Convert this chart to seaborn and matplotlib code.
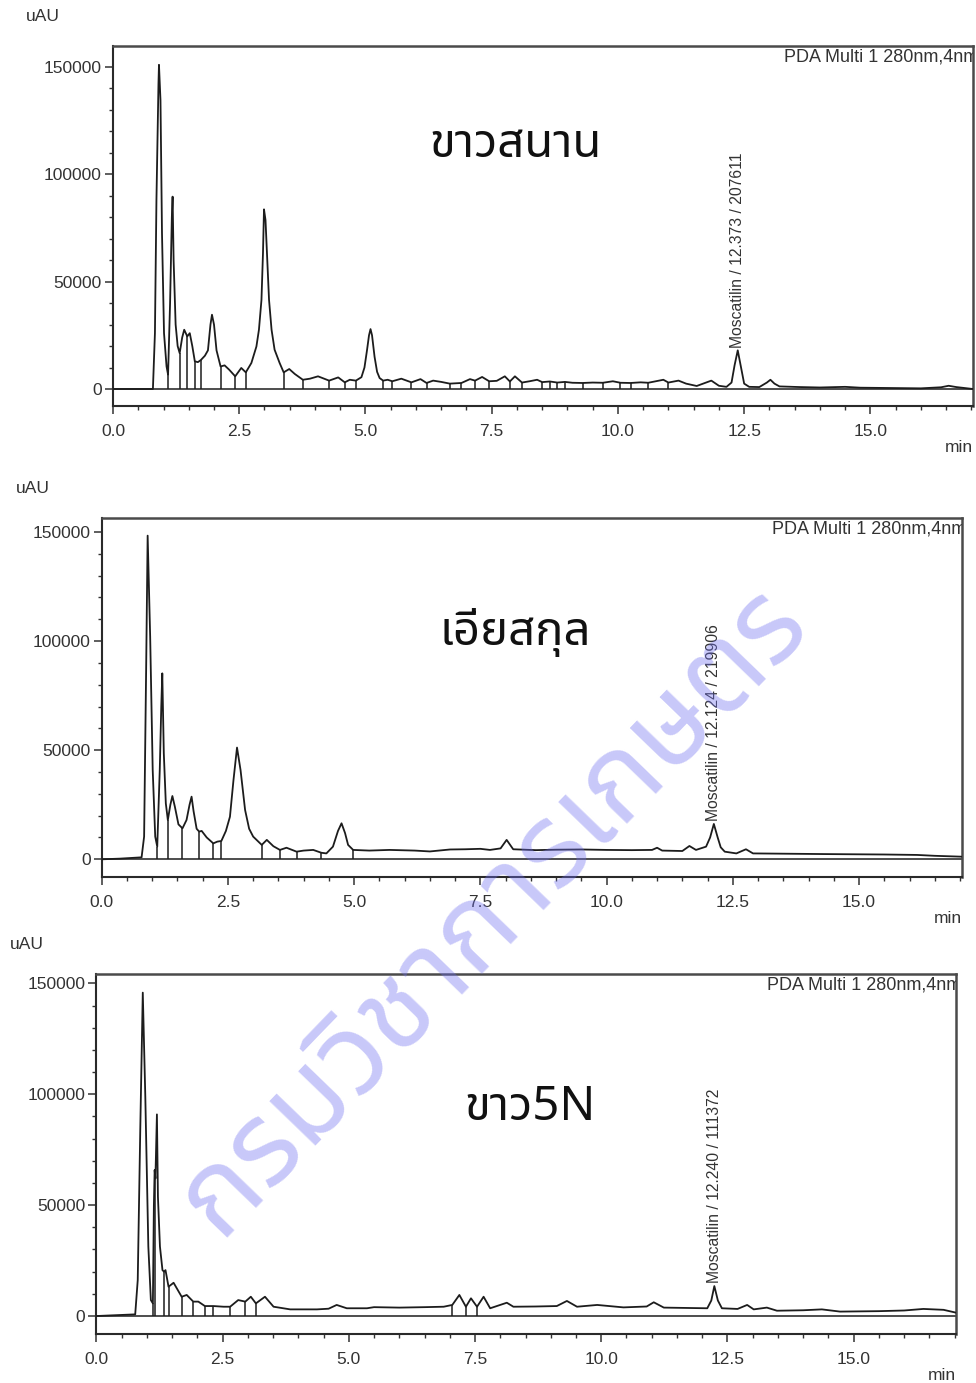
import numpy as np
import pandas as pd
import matplotlib
matplotlib.use("Agg")
import matplotlib.pyplot as plt
import seaborn as sns
from matplotlib import font_manager
from matplotlib.ft2font import FT2Font
from matplotlib.ticker import MultipleLocator, FixedLocator

sns.set_theme(style="white")
plt.rcParams["font.family"] = ["Liberation Sans", "DejaVu Sans"]

# ---------------- data ----------------
sample_names = ["ขาวสนาน", "เอียสกุล", "ขาว5N"]
detector_label = "PDA Multi 1 280nm,4nm"
watermark = "กรมวิชาการเกษตร"

# retention time (min) / signal (uAU) of each trace
time_1 = [0.0, 0.79, 0.83, 0.86, 0.90, 0.91, 0.94, 0.97, 1.01, 1.06, 1.09,
          1.13, 1.165, 1.18, 1.20, 1.24, 1.28, 1.32, 1.37, 1.41, 1.47,
          1.52, 1.57, 1.62, 1.68, 1.74, 1.82, 1.88, 1.93, 1.96, 2.00,
          2.05, 2.13, 2.21, 2.30, 2.42, 2.54, 2.63, 2.74, 2.84, 2.89,
          2.94, 2.97, 2.99, 3.02, 3.05, 3.09, 3.14, 3.20, 3.30, 3.38,
          3.49, 3.60, 3.76, 3.90, 4.06, 4.18, 4.28, 4.46, 4.59, 4.69,
          4.81, 4.92, 4.98, 5.03, 5.07, 5.10, 5.13, 5.18, 5.23, 5.28,
          5.35, 5.44, 5.53, 5.71, 5.91, 6.09, 6.21, 6.34, 6.50, 6.67,
          6.90, 7.07, 7.17, 7.31, 7.45, 7.60, 7.76, 7.86, 7.96, 8.10,
          8.25, 8.40, 8.50, 8.65, 8.80, 8.95, 9.10, 9.30, 9.50, 9.70,
          9.90, 10.05, 10.25, 10.45, 10.60, 10.90, 11.00, 11.20, 11.35, 11.56,
          11.85, 12.00, 12.15, 12.25, 12.31, 12.373, 12.43, 12.50, 12.60, 12.80,
          12.95, 13.02, 13.10, 13.20, 13.60, 14.00, 14.50, 14.80, 15.50, 16.00,
          16.40, 16.55, 16.70, 17.03]
signal_1 = [0, 0, 26000, 88000, 142000, 151000, 134500, 72500, 26000, 10500, 6700,
            40000, 80000, 89600, 60000, 30000, 20000, 16700, 24000, 27600, 24500,
            26000, 20000, 12900, 12500, 13500, 15500, 18000, 30000, 34600, 30000,
            18000, 10500, 11000, 9000, 5900, 9800, 7750, 12100, 19800, 27600,
            41500, 63200, 83700, 78700, 63200, 41500, 27600, 18300, 12100, 7750,
            9300, 7000, 4300, 4800, 5900, 4800, 3900, 5400, 3100, 4300,
            3900, 5500, 10000, 18000, 25000, 27900, 25000, 15000, 8000, 5100,
            3900, 4300, 3600, 4800, 3100, 4600, 2800, 3900, 3300, 2500,
            2800, 4600, 3900, 5600, 3600, 3800, 5900, 3500, 5900, 3000,
            3600, 4300, 3200, 3500, 3000, 3300, 2900, 2800, 3000, 2900,
            3600, 2900, 2800, 3100, 2900, 4300, 3000, 3900, 2500, 1400,
            3900, 1500, 1000, 3000, 11000, 18000, 11000, 2500, 1000, 900,
            3000, 4300, 2500, 1200, 900, 700, 1000, 600, 400, 300,
            800, 1500, 900, 0]
drops_1 = [0.79, 1.09, 1.32, 1.47, 1.62, 1.74, 2.13, 2.42, 2.63, 3.38,
           3.76, 4.28, 4.59, 4.81, 5.35, 5.53, 5.91, 6.21, 6.67, 6.90,
           7.17, 7.45, 7.86, 8.10, 8.50, 8.65, 8.80, 8.95, 9.30, 9.70,
           10.05, 10.25, 10.60, 11.00]

time_2 = [0.0, 0.36, 0.79, 0.84, 0.88, 0.91, 0.96, 1.01, 1.06, 1.10,
          1.15, 1.18, 1.20, 1.23, 1.27, 1.31, 1.36, 1.40, 1.45, 1.52,
          1.60, 1.68, 1.74, 1.78, 1.82, 1.88, 1.93, 1.98, 2.08, 2.21,
          2.29, 2.37, 2.46, 2.54, 2.61, 2.68, 2.75, 2.84, 2.92, 3.00,
          3.17, 3.27, 3.40, 3.53, 3.66, 3.86, 4.00, 4.19, 4.35, 4.45,
          4.58, 4.68, 4.75, 4.82, 4.88, 4.98, 5.30, 5.70, 6.20, 6.50,
          6.90, 7.20, 7.50, 7.69, 7.90, 8.02, 8.15, 8.60, 9.00, 9.50,
          10.00, 10.50, 10.90, 11.00, 11.10, 11.50, 11.64, 11.77, 11.97, 12.05,
          12.124, 12.20, 12.26, 12.34, 12.57, 12.76, 12.90, 14.30, 15.50, 16.15,
          16.50, 17.03]
signal_2 = [0, 300, 900, 10400, 86700, 148300, 102000, 41000, 10400, 5800,
            41000, 70000, 85200, 48600, 25600, 18000, 25000, 29000, 24000, 16000,
            14200, 18000, 25000, 28700, 22000, 14000, 12700, 13000, 10000, 7300,
            8100, 8400, 13000, 19500, 36300, 51200, 40900, 22600, 14000, 10400,
            6600, 8900, 6000, 4300, 5300, 3500, 4000, 4300, 3000, 2700,
            5800, 13000, 16500, 12000, 6600, 4300, 4000, 4300, 4000, 3600,
            4500, 4600, 4800, 4300, 5000, 8900, 4600, 4200, 4400, 4500,
            4300, 4200, 4300, 5300, 4000, 3800, 6100, 4300, 5800, 10000,
            16200, 10000, 5500, 3500, 2700, 4600, 2700, 2400, 2200, 2000,
            1600, 1200]
drops_2 = [1.10, 1.31, 1.60, 1.93, 2.21, 2.37, 3.17, 3.53, 3.86, 4.35,
           4.98]

time_3 = [0.0, 0.77, 0.82, 0.87, 0.92, 0.97, 1.03, 1.08, 1.12, 1.14,
          1.155, 1.17, 1.20, 1.22, 1.26, 1.31, 1.34, 1.37, 1.43, 1.53,
          1.69, 1.79, 1.92, 2.02, 2.15, 2.32, 2.52, 2.65, 2.81, 2.95,
          3.06, 3.16, 3.34, 3.51, 3.84, 4.37, 4.60, 4.76, 4.96, 5.36,
          5.50, 6.00, 6.50, 6.88, 7.05, 7.19, 7.32, 7.42, 7.54, 7.67,
          7.80, 8.13, 8.26, 8.70, 9.12, 9.32, 9.52, 9.92, 10.44, 10.90,
          11.04, 11.24, 12.10, 12.18, 12.24, 12.31, 12.39, 12.70, 12.89, 13.02,
          13.28, 13.48, 14.00, 14.37, 14.73, 15.50, 16.00, 16.38, 16.78, 17.03]
signal_3 = [0, 750, 16200, 83900, 145800, 98900, 31300, 7200, 5700, 50000,
            65800, 62000, 90900, 53800, 31300, 20700, 20000, 20700, 13200, 15000,
            8700, 9500, 6500, 6500, 4500, 4500, 4200, 4200, 7200, 6500,
            8700, 5700, 8700, 4200, 3000, 3000, 3300, 5000, 3500, 3500,
            4000, 3800, 4000, 4200, 5000, 9500, 4200, 8000, 4200, 8700,
            3500, 6000, 4200, 4300, 4500, 6800, 4200, 5000, 3900, 4300,
            6200, 3800, 3500, 7000, 13500, 7000, 3500, 3200, 5000, 3000,
            3800, 2400, 2600, 3000, 2000, 2200, 2500, 3200, 2800, 1500]
drops_3 = [1.12, 1.155, 1.34, 1.43, 1.69, 1.92, 2.15, 2.32, 2.65, 2.95,
           3.16, 7.05, 7.32, 7.54]

# identified peak: retention time and area
peak_name = "Moscatilin"
peak_rt = [12.373, 12.124, 12.240]
peak_height = [18000, 16200, 13500]
peak_area = [207611, 219906, 111372]

times = [time_1, time_2, time_3]
signals = [signal_1, signal_2, signal_3]
drops = [drops_1, drops_2, drops_3]

# ---------------- fonts ----------------
def find_thai_family():
    candidates = []
    for f in font_manager.fontManager.ttflist:
        try:
            cmap = FT2Font(f.fname).get_charmap()
        except Exception:
            continue
        if 0x0E01 in cmap and 0x0E2A in cmap:
            candidates.append(f.name)
    for pref in ("Noto Sans Thai", "Noto Sans Thai UI", "Loma", "Garuda",
                 "Tlwg Typist", "Noto Sans", "Noto Serif Thai"):
        if pref in candidates:
            return pref
    return candidates[0] if candidates else "DejaVu Sans"

thai_family = [find_thai_family(), "DejaVu Sans"]

# ---------------- layout ----------------
fig = plt.figure(figsize=(9.76, 13.83), dpi=100)
positions = [(0.1158, 0.70644, 0.8810, 0.2603),
             (0.1042, 0.36587, 0.8810, 0.2596),
             (0.0987, 0.03543, 0.8810, 0.2603)]
ylims = [(-7920, 159780), (-8110, 156400), (-8100, 154200)]
title_xy = [(0.468, 0.725), (0.481, 0.680), (0.504, 0.628)]
uau_xy = [(0.027, 0.988), (0.016, 0.647), (0.010, 0.317)]

tick_color = "#333333"
frame_color = "#4a4a4a"

for i in range(3):
    ax = fig.add_axes(positions[i])
    ax.set_facecolor("white")
    df = pd.DataFrame({"time": times[i], "signal": signals[i]})
    sns.lineplot(data=df, x="time", y="signal", ax=ax, color="#1c1c1c",
                 linewidth=1.3, estimator=None, sort=False, zorder=3)

    # integration drop lines at peak boundaries
    lookup = dict(zip(times[i], signals[i]))
    d_t = [t for t in drops[i]]
    d_v = [lookup[t] for t in drops[i]]
    ax.vlines(d_t, 0, d_v, colors="#1c1c1c", linewidth=1.1, zorder=3)

    # zero level
    ax.axhline(0, color="#1c1c1c", linewidth=1.1, zorder=2)

    ax.set_xlim(0, 17.03)
    ax.set_ylim(*ylims[i])
    ax.set_xlabel("")
    ax.set_ylabel("")

    ax.xaxis.set_major_locator(FixedLocator([0, 2.5, 5, 7.5, 10, 12.5, 15]))
    ax.xaxis.set_minor_locator(MultipleLocator(0.5))
    ax.set_xticklabels(["0.0", "2.5", "5.0", "7.5", "10.0", "12.5", "15.0"])
    ax.yaxis.set_major_locator(FixedLocator([0, 50000, 100000, 150000]))
    ax.yaxis.set_minor_locator(MultipleLocator(10000))
    ax.set_yticklabels(["0", "50000", "100000", "150000"])

    ax.tick_params(axis="both", which="major", direction="out", length=6,
                   width=1.1, color=tick_color, labelsize=12.5,
                   labelcolor=tick_color, pad=2,
                   bottom=True, left=True, top=False, right=False)
    ax.tick_params(axis="both", which="minor", direction="out", length=3,
                   width=1.0, color=tick_color,
                   bottom=True, left=True, top=False, right=False)
    ax.tick_params(axis="x", which="major", pad=7)

    for side, sp in ax.spines.items():
        sp.set_visible(True)
        sp.set_color(frame_color if side in ("top", "right") else "#2a2a2a")
        sp.set_linewidth(1.8 if side in ("top", "right") else 1.5)

    # detector label, top right (runs into the frame)
    ax.text(1.006, 0.970, detector_label, transform=ax.transAxes, ha="right",
            va="center", fontsize=13, color="#333333", clip_on=True)

    # sample name
    ax.text(title_xy[i][0], title_xy[i][1], sample_names[i],
            transform=ax.transAxes, ha="center", va="center",
            fontsize=34, color="#111111", family=thai_family)

    # peak label
    ax.text(peak_rt[i], peak_height[i] + 1200,
            f"{peak_name} / {peak_rt[i]:.3f} / {peak_area[i]}",
            rotation=90, ha="center", va="bottom", fontsize=11.3,
            color="#333333")

    # axis units
    fig.text(uau_xy[i][0], uau_xy[i][1], "uAU", ha="left", va="center",
             fontsize=12.5, color=tick_color)
    ax.text(1.0, -0.115, "min", transform=ax.transAxes, ha="right",
            va="center", fontsize=12.5, color=tick_color)

# diagonal stamp across the page
fig.text(0.505, 0.342, watermark, rotation=46, ha="center", va="center",
         fontsize=84, fontweight="bold", color="#6f6ff0", alpha=0.38,
         family=thai_family, zorder=10)

fig.savefig("out.png", dpi=100)
